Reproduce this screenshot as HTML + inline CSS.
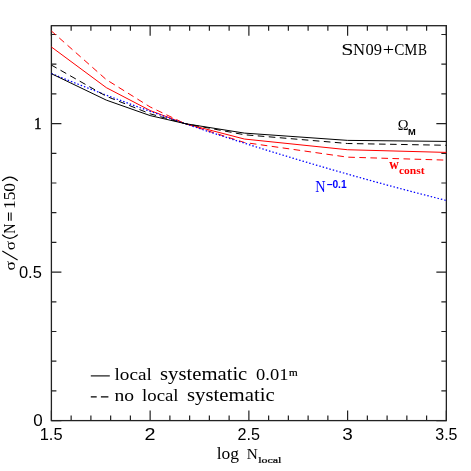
<!DOCTYPE html>
<html><head><meta charset="utf-8"><style>
html,body{margin:0;padding:0;background:#fff;}
svg{display:block;will-change:transform;opacity:0.999;}
text{font-family:"Liberation Serif",serif;fill:#000;}
</style></head><body>
<svg width="471" height="471" viewBox="0 0 471 471">
<rect width="471" height="471" fill="#fff"/>
<path d="M51.40,420.60 v-10 M51.40,25.70 v10 M71.15,420.60 v-5 M71.15,25.70 v5 M90.89,420.60 v-5 M90.89,25.70 v5 M110.64,420.60 v-5 M110.64,25.70 v5 M130.39,420.60 v-5 M130.39,25.70 v5 M150.14,420.60 v-10 M150.14,25.70 v10 M169.89,420.60 v-5 M169.89,25.70 v5 M189.63,420.60 v-5 M189.63,25.70 v5 M209.38,420.60 v-5 M209.38,25.70 v5 M229.13,420.60 v-5 M229.13,25.70 v5 M248.88,420.60 v-10 M248.88,25.70 v10 M268.62,420.60 v-5 M268.62,25.70 v5 M288.37,420.60 v-5 M288.37,25.70 v5 M308.12,420.60 v-5 M308.12,25.70 v5 M327.87,420.60 v-5 M327.87,25.70 v5 M347.61,420.60 v-10 M347.61,25.70 v10 M367.36,420.60 v-5 M367.36,25.70 v5 M387.11,420.60 v-5 M387.11,25.70 v5 M406.85,420.60 v-5 M406.85,25.70 v5 M426.60,420.60 v-5 M426.60,25.70 v5 M446.35,420.60 v-10 M446.35,25.70 v10 M51.40,420.60 h10 M446.35,420.60 h-10 M51.40,390.90 h5 M446.35,390.90 h-5 M51.40,361.20 h5 M446.35,361.20 h-5 M51.40,331.50 h5 M446.35,331.50 h-5 M51.40,301.80 h5 M446.35,301.80 h-5 M51.40,272.10 h10 M446.35,272.10 h-10 M51.40,242.40 h5 M446.35,242.40 h-5 M51.40,212.70 h5 M446.35,212.70 h-5 M51.40,183.00 h5 M446.35,183.00 h-5 M51.40,153.30 h5 M446.35,153.30 h-5 M51.40,123.60 h10 M446.35,123.60 h-10 M51.40,93.90 h5 M446.35,93.90 h-5 M51.40,64.20 h5 M446.35,64.20 h-5 M51.40,34.50 h5 M446.35,34.50 h-5" stroke="#222" stroke-width="1.2" fill="none"/>
<rect x="51.40" y="25.70" width="394.95" height="394.90" fill="none" stroke="#222" stroke-width="1.3"/>
<path d="M51.40,46.97 L106.33,87.66 L150.14,110.53 L184.91,123.60 L244.36,139.04 L347.61,149.74 L446.35,152.41" stroke="#ff0000" stroke-width="1.0" fill="none"/>
<path d="M51.40,31.00 L106.33,79.64 L150.14,106.97 L184.91,123.60 L244.36,142.46 L347.61,157.16 L446.35,160.13" stroke="#ff0000" stroke-width="1.0" fill="none" stroke-dasharray="6.6 4.45" stroke-dashoffset="0.6"/>
<path d="M51.40,73.57 L53.37,74.37 L55.35,75.17 L57.32,75.96 L59.30,76.75 L61.27,77.54 L63.25,78.33 L65.22,79.12 L67.20,79.91 L69.17,80.69 L71.15,81.47 L73.12,82.25 L75.10,83.03 L77.07,83.81 L79.05,84.58 L81.02,85.35 L83.00,86.12 L84.97,86.89 L86.95,87.66 L88.92,88.43 L90.89,89.19 L92.87,89.95 L94.84,90.71 L96.82,91.47 L98.79,92.23 L100.77,92.98 L102.74,93.74 L104.72,94.49 L106.69,95.24 L108.67,95.99 L110.64,96.73 L112.62,97.48 L114.59,98.22 L116.57,98.96 L118.54,99.70 L120.52,100.44 L122.49,101.18 L124.47,101.91 L126.44,102.65 L128.42,103.38 L130.39,104.11 L132.36,104.83 L134.34,105.56 L136.31,106.28 L138.29,107.01 L140.26,107.73 L142.24,108.45 L144.21,109.17 L146.19,109.88 L148.16,110.60 L150.14,111.31 L152.11,112.02 L154.09,112.73 L156.06,113.44 L158.04,114.15 L160.01,114.85 L161.99,115.55 L163.96,116.26 L165.94,116.96 L167.91,117.65 L169.89,118.35 L171.86,119.05 L173.83,119.74 L175.81,120.43 L177.78,121.12 L179.76,121.81 L181.73,122.50 L183.71,123.18 L185.68,123.86 L187.66,124.53 L189.63,125.20 L191.61,125.87 L193.58,126.54 L195.56,127.20 L197.53,127.87 L199.51,128.53 L201.48,129.19 L203.46,129.85 L205.43,130.50 L207.41,131.16 L209.38,131.81 L211.35,132.47 L213.33,133.12 L215.30,133.77 L217.28,134.42 L219.25,135.06 L221.23,135.71 L223.20,136.35 L225.18,137.00 L227.15,137.64 L229.13,138.28 L231.10,138.92 L233.08,139.55 L235.05,140.19 L237.03,140.82 L239.00,141.45 L240.98,142.09 L242.95,142.71 L244.93,143.34 L246.90,143.97 L248.88,144.60 L250.85,145.22 L252.82,145.84 L254.80,146.46 L256.77,147.08 L258.75,147.70 L260.72,148.32 L262.70,148.93 L264.67,149.55 L266.65,150.16 L268.62,150.77 L270.60,151.38 L272.57,151.99 L274.55,152.60 L276.52,153.20 L278.50,153.81 L280.47,154.41 L282.45,155.01 L284.42,155.61 L286.40,156.21 L288.37,156.81 L290.34,157.41 L292.32,158.00 L294.29,158.60 L296.27,159.19 L298.24,159.78 L300.22,160.37 L302.19,160.96 L304.17,161.54 L306.14,162.13 L308.12,162.71 L310.09,163.30 L312.07,163.88 L314.04,164.46 L316.02,165.04 L317.99,165.62 L319.97,166.19 L321.94,166.77 L323.92,167.34 L325.89,167.92 L327.87,168.49 L329.84,169.06 L331.81,169.63 L333.79,170.19 L335.76,170.76 L337.74,171.32 L339.71,171.89 L341.69,172.45 L343.66,173.01 L345.64,173.57 L347.61,174.13 L349.59,174.69 L351.56,175.24 L353.54,175.80 L355.51,176.35 L357.49,176.90 L359.46,177.45 L361.44,178.00 L363.41,178.55 L365.39,179.10 L367.36,179.64 L369.33,180.19 L371.31,180.73 L373.28,181.28 L375.26,181.82 L377.23,182.36 L379.21,182.90 L381.18,183.43 L383.16,183.97 L385.13,184.50 L387.11,185.04 L389.08,185.57 L391.06,186.10 L393.03,186.63 L395.01,187.16 L396.98,187.69 L398.96,188.21 L400.93,188.74 L402.91,189.26 L404.88,189.79 L406.85,190.31 L408.83,190.83 L410.80,191.35 L412.78,191.87 L414.75,192.38 L416.73,192.90 L418.70,193.42 L420.68,193.93 L422.65,194.44 L424.63,194.95 L426.60,195.46 L428.58,195.97 L430.55,196.48 L432.53,196.99 L434.50,197.49 L436.48,198.00 L438.45,198.50 L440.43,199.00 L442.40,199.50 L444.38,200.00 L446.35,200.50" stroke="#0000ff" stroke-width="1.25" fill="none" stroke-dasharray="1.5 2.0" />
<path d="M51.40,73.70 L106.33,100.14 L150.14,115.58 L184.91,123.60 L244.36,133.10 L347.61,140.38 L446.35,141.42" stroke="#000" stroke-width="1.0" fill="none"/>
<path d="M51.40,65.09 L106.33,96.28 L150.14,113.80 L184.91,123.60 L244.36,134.74 L347.61,143.50 L446.35,145.28" stroke="#000" stroke-width="1.0" fill="none" stroke-dasharray="6.6 4.45" stroke-dashoffset="0.6"/>
<text transform="translate(39.66,439.80) scale(1.1765,1.1532)" font-size="14" style="font-family:'Liberation Sans',sans-serif;font-weight:normal;fill:#000">1.5</text>
<text transform="translate(237.57,439.80) scale(1.1538,1.1367)" font-size="14" style="font-family:'Liberation Sans',sans-serif;font-weight:normal;fill:#000">2.5</text>
<text transform="translate(435.25,439.80) scale(1.1429,1.1367)" font-size="14" style="font-family:'Liberation Sans',sans-serif;font-weight:normal;fill:#000">3.5</text>
<text transform="translate(144.55,439.80) scale(1.4129,1.1367)" font-size="14" style="font-family:'Liberation Sans',sans-serif;font-weight:normal;fill:#000">2</text>
<text transform="translate(342.30,439.80) scale(1.3534,1.1367)" font-size="14" style="font-family:'Liberation Sans',sans-serif;font-weight:normal;fill:#000">3</text>
<text transform="translate(33.22,426.10) scale(1.2117,1.1572)" font-size="14" style="font-family:'Liberation Sans',sans-serif;font-weight:normal;fill:#000">0</text>
<text transform="translate(18.94,277.70) scale(1.1778,1.1367)" font-size="14" style="font-family:'Liberation Sans',sans-serif;font-weight:normal;fill:#000">0.5</text>
<text transform="translate(34.36,129.30) scale(0.8865,1.0417)" font-size="16" style="font-family:'Liberation Serif',serif;font-weight:normal;fill:#000;stroke:#000;stroke-width:0.5">1</text>
<text transform="translate(341.32,55.00) scale(1.3743,0.9906)" font-size="16" style="font-family:'Liberation Serif',serif;font-weight:normal;fill:#000">S</text>
<text transform="translate(352.90,55.00) scale(1.0448,1.0019)" font-size="16" style="font-family:'Liberation Serif',serif;font-weight:normal;fill:#000">N</text>
<text transform="translate(365.58,55.00) scale(1.0298,0.9868)" font-size="16" style="font-family:'Liberation Serif',serif;font-weight:normal;fill:#000">09</text>
<text transform="translate(382.69,55.00) scale(1.2634,1.0000)" font-size="16" style="font-family:'Liberation Serif',serif;font-weight:normal;fill:#000">+</text>
<text transform="translate(394.29,55.00) scale(0.9498,0.9906)" font-size="16" style="font-family:'Liberation Serif',serif;font-weight:normal;fill:#000">C</text>
<text transform="translate(404.26,55.00) scale(0.9187,1.0019)" font-size="16" style="font-family:'Liberation Serif',serif;font-weight:normal;fill:#000">M</text>
<text transform="translate(417.90,55.00) scale(0.8404,1.0019)" font-size="16" style="font-family:'Liberation Serif',serif;font-weight:normal;fill:#000">B</text>
<text transform="translate(397.84,129.60) scale(0.9687,0.9962)" font-size="15" style="font-family:'Liberation Serif',serif;font-weight:normal;fill:#000">Ω</text>
<text transform="translate(408.07,134.50) scale(1.0354,1.0343)" font-size="9" style="font-family:'Liberation Sans',sans-serif;font-weight:bold;fill:#000">M</text>
<text transform="translate(389.17,169.40) scale(0.8765,0.9710)" font-size="15" style="font-family:'Liberation Serif',serif;font-weight:bold;fill:#ff0000">w</text>
<text transform="translate(398.89,174.30) scale(1.1040,1.0000)" font-size="10.5" style="font-family:'Liberation Serif',serif;font-weight:bold;fill:#ff0000">const</text>
<text transform="translate(315.37,191.80) scale(0.8955,1.0401)" font-size="16" style="font-family:'Liberation Serif',serif;font-weight:normal;fill:#0000ff">N</text>
<text transform="translate(326.46,187.70) scale(1.0250,1.0323)" font-size="10" style="font-family:'Liberation Sans',sans-serif;font-weight:bold;fill:#0000ff">−0.1</text>
<path d="M90.8,375.9 H109.8" stroke="#000" stroke-width="1.1"/>
<path d="M90.8,396.9 H96.7 M100.9,396.9 H108.4" stroke="#000" stroke-width="1.1"/>
<text transform="translate(114.52,380.00) scale(1.1627,0.9505)" font-size="16.5" style="font-family:'Liberation Serif',serif;font-weight:normal;fill:#000">local</text>
<text transform="translate(160.07,380.00) scale(1.2530,1.1156)" font-size="16.5" style="font-family:'Liberation Serif',serif;font-weight:normal;fill:#000">systematic</text>
<text transform="translate(256.01,380.00) scale(1.1223,0.9752)" font-size="16.5" style="font-family:'Liberation Serif',serif;font-weight:normal;fill:#000">0.01</text>
<text transform="translate(288.98,375.50) scale(1.0162,0.8897)" font-size="11" style="font-family:'Liberation Serif',serif;font-weight:normal;fill:#000;stroke:#000;stroke-width:0.25">m</text>
<text transform="translate(114.46,400.90) scale(1.1863,1.0000)" font-size="16.5" style="font-family:'Liberation Serif',serif;font-weight:normal;fill:#000">no</text>
<text transform="translate(142.02,400.90) scale(1.1404,0.9505)" font-size="16.5" style="font-family:'Liberation Serif',serif;font-weight:normal;fill:#000">local</text>
<text transform="translate(186.97,400.90) scale(1.2603,1.1156)" font-size="16.5" style="font-family:'Liberation Serif',serif;font-weight:normal;fill:#000">systematic</text>
<text transform="translate(216.65,459.00) scale(1.0579,0.9680)" font-size="16.5" style="font-family:'Liberation Serif',serif;font-weight:normal;fill:#000">log</text>
<text transform="translate(246.64,459.00) scale(0.9515,0.9542)" font-size="16" style="font-family:'Liberation Serif',serif;font-weight:normal;fill:#000">N</text>
<text transform="translate(258.16,463.20) scale(1.2560,0.9693)" font-size="9.5" style="font-family:'Liberation Serif',serif;font-weight:normal;fill:#000;stroke:#000;stroke-width:0.25">local</text>
<text transform="translate(15.10,270.55) rotate(-90) scale(1.0567,0.9224)" font-size="16.5" style="font-family:'Liberation Serif',serif;font-weight:normal;fill:#000">σ</text>
<text transform="translate(15.10,250.34) rotate(-90) scale(1.0319,0.9224)" font-size="16.5" style="font-family:'Liberation Serif',serif;font-weight:normal;fill:#000">σ</text>
<text transform="translate(15.10,233.82) rotate(-90) scale(0.8503,1.0363)" font-size="16.5" style="font-family:'Liberation Serif',serif;font-weight:normal;fill:#000">N</text>
<text transform="translate(15.10,209.02) rotate(-90) scale(1.0534,1.0207)" font-size="16.5" style="font-family:'Liberation Serif',serif;font-weight:normal;fill:#000">150</text>
<path d="M17.6,259.9 L2.3,251.1" stroke="#000" stroke-width="1.1" fill="none"/>
<path d="M2.1,234.7 Q9.95,241.9 17.8,234.7" stroke="#000" stroke-width="1.1" fill="none"/>
<path d="M2.1,180.9 Q9.95,173.5 17.8,180.9" stroke="#000" stroke-width="1.1" fill="none"/>
<path d="M8.5,212.6 V220.7 M11.1,212.6 V220.7" stroke="#000" stroke-width="1.1" fill="none"/>
</svg></body></html>
